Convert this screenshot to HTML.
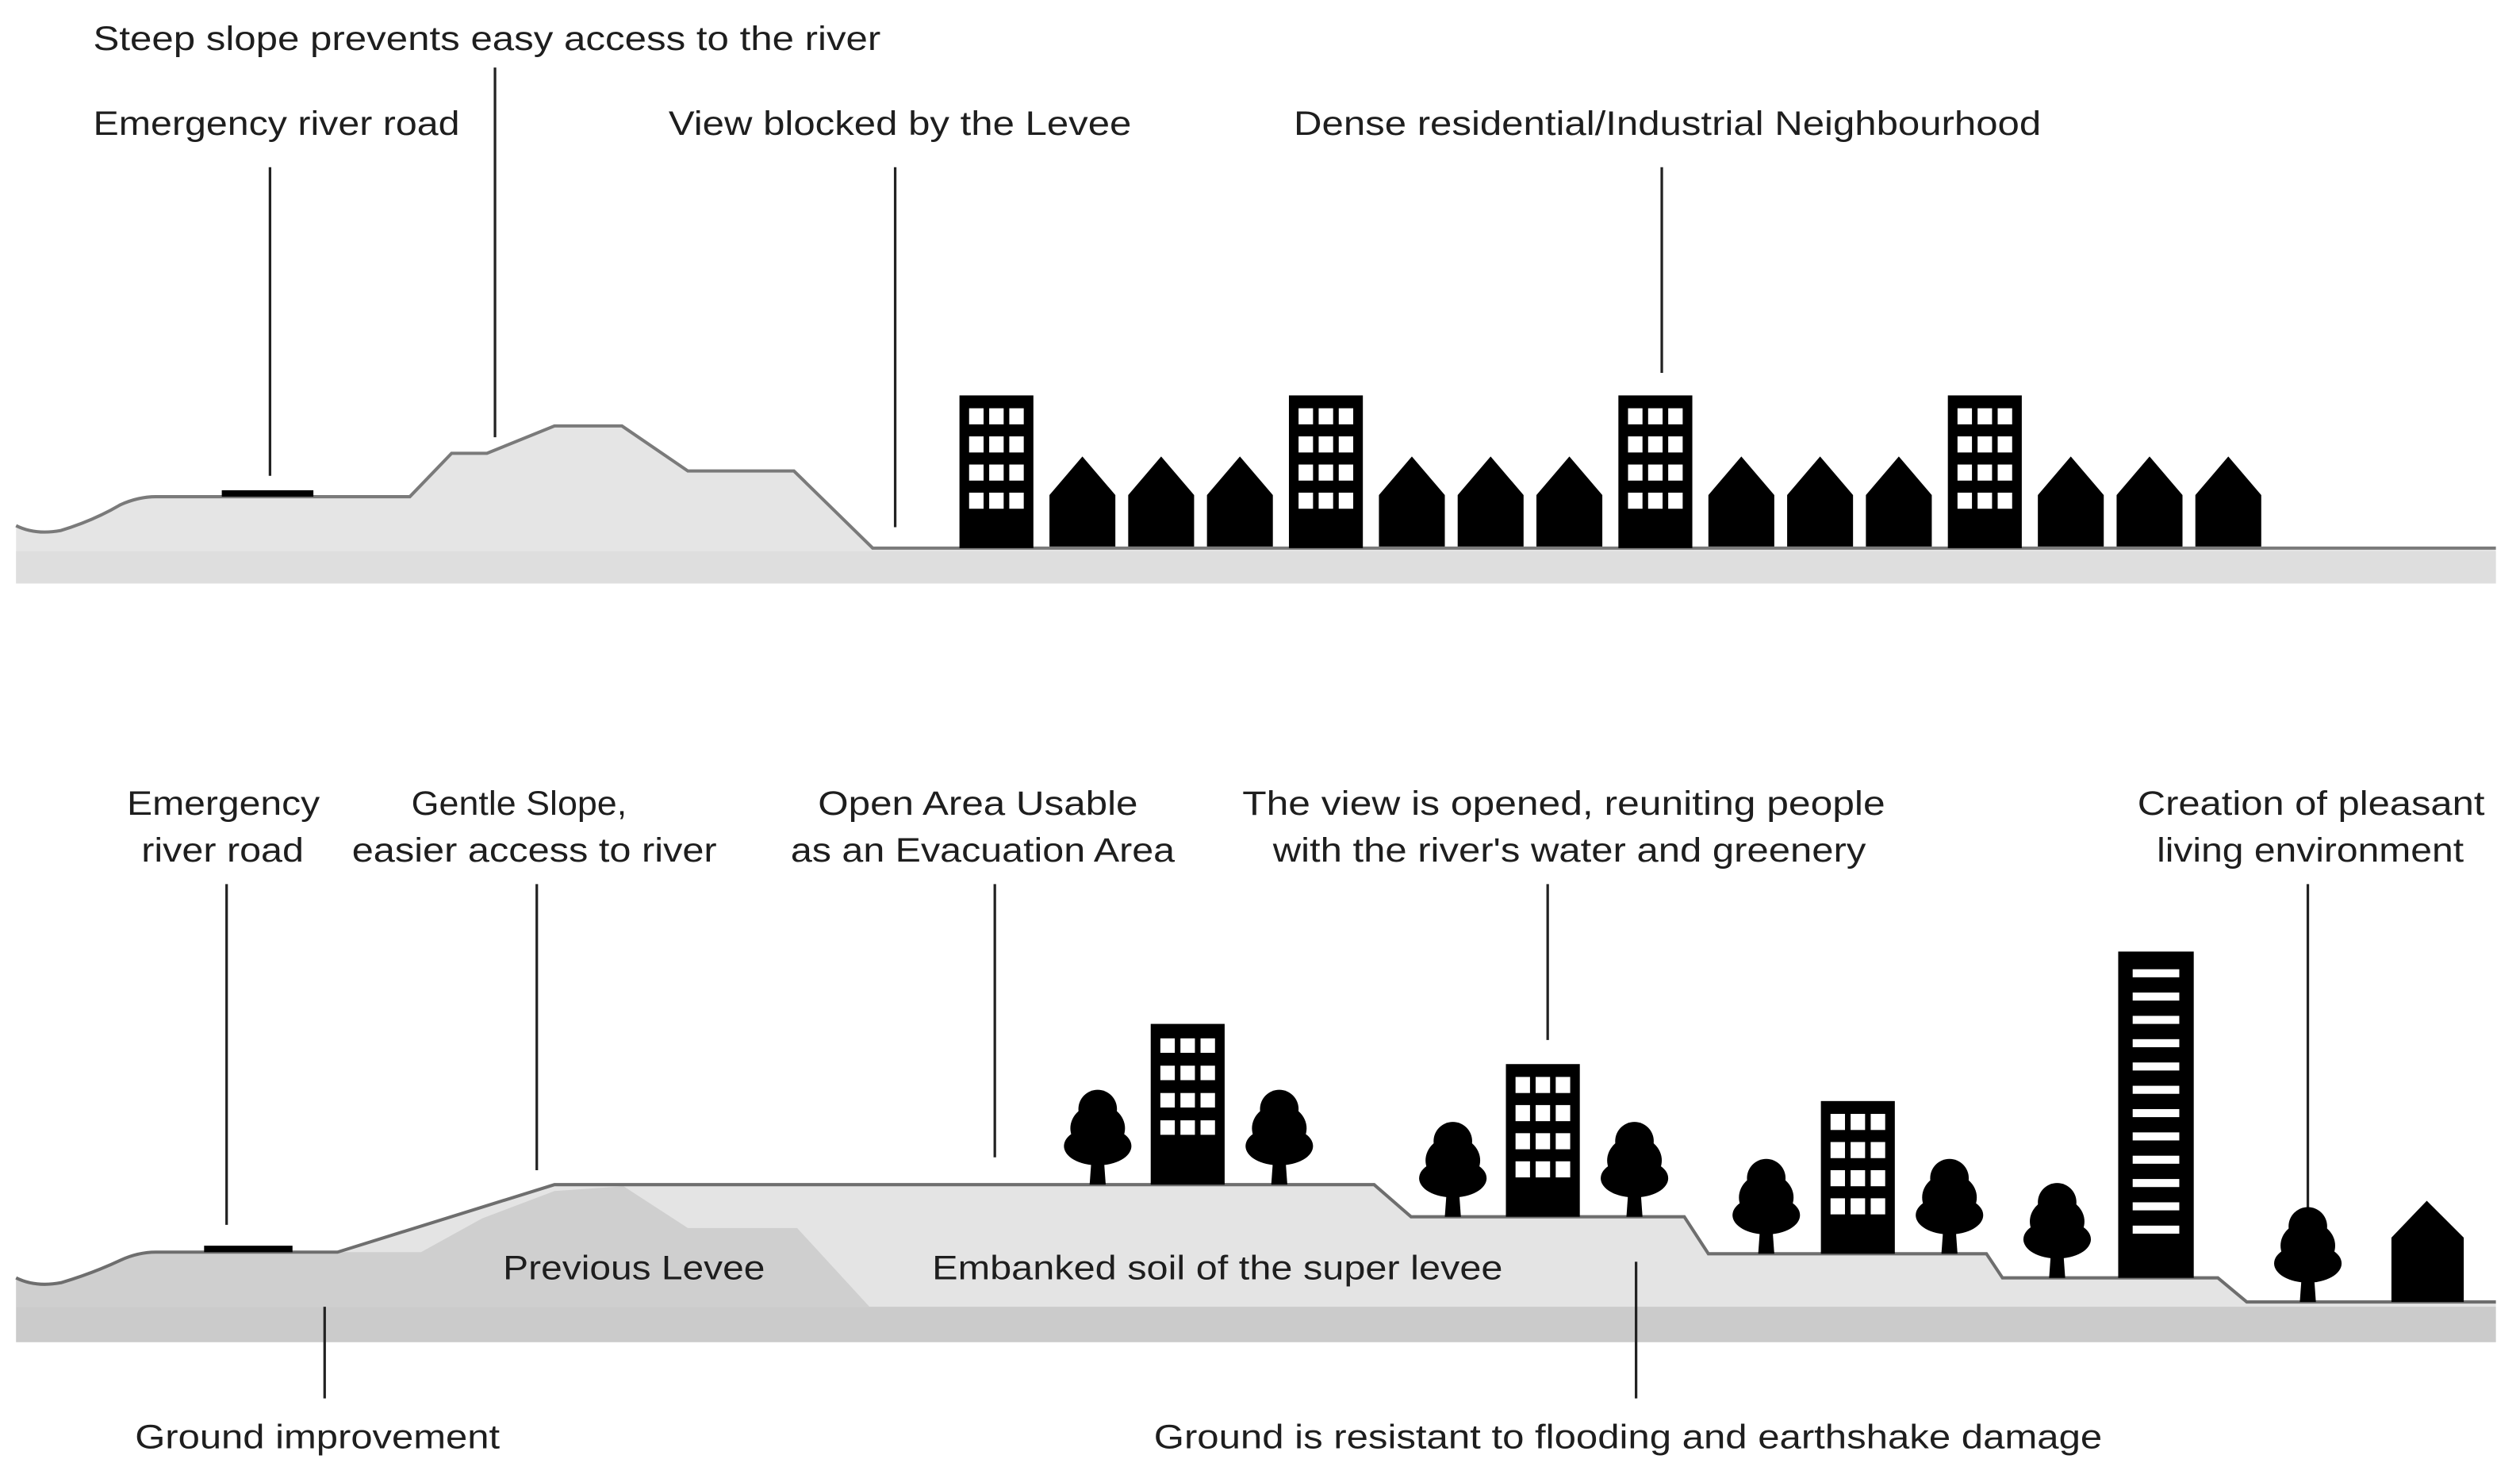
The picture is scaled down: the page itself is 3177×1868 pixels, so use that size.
<!DOCTYPE html>
<html><head><meta charset="utf-8"><style>
html,body{margin:0;padding:0;background:#fff;}
svg{display:block;}
text{font-family:"Liberation Sans",Arial,sans-serif;font-size:21px;fill:#1e1e1e;}
</style></head><body>
<svg width="3177" height="1868" viewBox="0 0 1568 922" preserveAspectRatio="none" xmlns="http://www.w3.org/2000/svg">
<defs>
<g id="bld">
<rect x="0" y="0" width="46" height="95" fill="#000"/>
<g fill="#fff">
<rect x="6" y="8" width="9" height="10"/><rect x="18.5" y="8" width="9" height="10"/><rect x="31" y="8" width="9" height="10"/>
<rect x="6" y="25.5" width="9" height="10"/><rect x="18.5" y="25.5" width="9" height="10"/><rect x="31" y="25.5" width="9" height="10"/>
<rect x="6" y="43" width="9" height="10"/><rect x="18.5" y="43" width="9" height="10"/><rect x="31" y="43" width="9" height="10"/>
<rect x="6" y="60.5" width="9" height="10"/><rect x="18.5" y="60.5" width="9" height="10"/><rect x="31" y="60.5" width="9" height="10"/>
</g></g>
<polygon id="house" points="0,56 0,24 20.5,0 41,24 41,56" fill="#000"/>
<g id="tree" fill="#000">
<path d="M-4,-14 L-5,0 L5,0 L4,-14 Z"/>
<ellipse cx="0" cy="-47" rx="12" ry="12"/>
<ellipse cx="0" cy="-35" rx="17" ry="15"/>
<ellipse cx="0" cy="-24" rx="21" ry="12"/>
</g>
</defs>

<!-- TOP SECTION -->
<text x="58" y="31" textLength="490" lengthAdjust="spacingAndGlyphs">Steep slope prevents easy access to the river</text>
<text x="58" y="84" textLength="228" lengthAdjust="spacingAndGlyphs">Emergency river road</text>
<text x="416" y="84" textLength="288" lengthAdjust="spacingAndGlyphs">View blocked by the Levee</text>
<text x="805" y="84" textLength="465" lengthAdjust="spacingAndGlyphs">Dense residential/Industrial Neighbourhood</text>
<g stroke="#222" stroke-width="1.6">
<line x1="168" y1="104" x2="168" y2="296"/>
<line x1="308" y1="42" x2="308" y2="272"/>
<line x1="557" y1="104" x2="557" y2="328"/>
<line x1="1034" y1="104" x2="1034" y2="232"/>
</g>
<path d="M10,327 Q22,333 38,330 Q58,324 75,314 Q86,309 97,309 L255,309 L281,282 L303,282 L345,265 L387,265 L428,293 L494,293 L543,341 L1553,341 L1553,363 L10,363 Z" fill="#e5e5e5"/>
<rect x="10" y="343" width="1543" height="20" fill="#dedede"/>
<path d="M10,327 Q22,333 38,330 Q58,324 75,314 Q86,309 97,309 L255,309 L281,282 L303,282 L345,265 L387,265 L428,293 L494,293 L543,341 L1553,341" fill="none" stroke="#7a7a7a" stroke-width="2"/>
<rect x="138" y="305" width="57" height="4" fill="#000"/>
<use href="#bld" x="597" y="246"/>
<use href="#bld" x="802" y="246"/>
<use href="#bld" x="1007" y="246"/>
<use href="#bld" x="1212" y="246"/>
<use href="#house" x="653" y="284"/><use href="#house" x="702" y="284"/><use href="#house" x="751" y="284"/>
<use href="#house" x="858" y="284"/><use href="#house" x="907" y="284"/><use href="#house" x="956" y="284"/>
<use href="#house" x="1063" y="284"/><use href="#house" x="1112" y="284"/><use href="#house" x="1161" y="284"/>
<use href="#house" x="1268" y="284"/><use href="#house" x="1317" y="284"/><use href="#house" x="1366" y="284"/>

<!-- BOTTOM SECTION -->
<text x="79" y="507" textLength="120" lengthAdjust="spacingAndGlyphs">Emergency</text>
<text x="88" y="536" textLength="101" lengthAdjust="spacingAndGlyphs">river road</text>
<text x="256" y="507" textLength="134" lengthAdjust="spacingAndGlyphs">Gentle Slope,</text>
<text x="219" y="536" textLength="227" lengthAdjust="spacingAndGlyphs">easier access to river</text>
<text x="509" y="507" textLength="199" lengthAdjust="spacingAndGlyphs">Open Area Usable</text>
<text x="492" y="536" textLength="239" lengthAdjust="spacingAndGlyphs">as an Evacuation Area</text>
<text x="773" y="507" textLength="400" lengthAdjust="spacingAndGlyphs">The  view is opened, reuniting people</text>
<text x="792" y="536" textLength="369" lengthAdjust="spacingAndGlyphs">with the river's water and greenery</text>
<text x="1330" y="507" textLength="216" lengthAdjust="spacingAndGlyphs">Creation of pleasant</text>
<text x="1342" y="536" textLength="191" lengthAdjust="spacingAndGlyphs">living environment</text>
<text x="84" y="901" textLength="227" lengthAdjust="spacingAndGlyphs">Ground improvement</text>
<text x="718" y="901" textLength="590" lengthAdjust="spacingAndGlyphs">Ground is resistant to flooding and earthshake damage</text>

<!-- ground -->
<path d="M10,795 Q22,801 38,798 Q58,792 75,784 Q86,779 97,779 L210,779 L345,737 L855,737 L878,757 L1048,757 L1063,780 L1236,780 L1246,795 L1380,795 L1398,810 L1553,810 L1553,835 L10,835 Z" fill="#e4e4e4"/>
<path d="M10,795 Q22,801 38,798 Q58,792 75,784 Q86,779 97,779 L210,779 L262,779 L300,758 L345,741 L388,738 L428,764 L496,764 L541,813 L10,813 Z" fill="#cfcfcf"/>
<rect x="10" y="813" width="1543" height="22" fill="#cbcbcb"/>
<path d="M10,795 Q22,801 38,798 Q58,792 75,784 Q86,779 97,779 L210,779 L345,737 L855,737 L878,757 L1048,757 L1063,780 L1236,780 L1246,795 L1380,795 L1398,810 L1553,810" fill="none" stroke="#6e6e6e" stroke-width="2"/>
<rect x="127" y="775" width="55" height="4" fill="#000"/>
<text x="313" y="796" fill="#3a3a3a" textLength="163" lengthAdjust="spacingAndGlyphs">Previous Levee</text>
<text x="580" y="796" fill="#3a3a3a" textLength="355" lengthAdjust="spacingAndGlyphs">Embanked soil of the super levee</text>

<g stroke="#222" stroke-width="1.6">
<line x1="141" y1="550" x2="141" y2="762"/>
<line x1="334" y1="550" x2="334" y2="728"/>
<line x1="619" y1="550" x2="619" y2="720"/>
<line x1="963" y1="550" x2="963" y2="647"/>
<line x1="1436" y1="550" x2="1436" y2="765"/>
<line x1="202" y1="813" x2="202" y2="870"/>
<line x1="1018" y1="785" x2="1018" y2="870"/>
</g>

<rect x="716" y="637" width="46" height="100" fill="#000"/>
<g fill="#fff">
<rect x="722" y="646" width="9" height="9"/><rect x="734.5" y="646" width="9" height="9"/><rect x="747" y="646" width="9" height="9"/>
<rect x="722" y="663" width="9" height="9"/><rect x="734.5" y="663" width="9" height="9"/><rect x="747" y="663" width="9" height="9"/>
<rect x="722" y="680" width="9" height="9"/><rect x="734.5" y="680" width="9" height="9"/><rect x="747" y="680" width="9" height="9"/>
<rect x="722" y="697" width="9" height="9"/><rect x="734.5" y="697" width="9" height="9"/><rect x="747" y="697" width="9" height="9"/>
</g>
<use href="#tree" x="683" y="737"/>
<use href="#tree" x="796" y="737"/>

<use href="#tree" x="904" y="757"/>
<use href="#bld" x="937" y="662"/>
<use href="#tree" x="1017" y="757"/>

<use href="#tree" x="1099" y="780"/>
<use href="#bld" x="1133" y="685"/>
<use href="#tree" x="1213" y="780"/>

<use href="#tree" x="1280" y="795"/>
<rect x="1318" y="592" width="47" height="203" fill="#000"/>
<g fill="#fff">
<rect x="1327" y="603" width="29" height="5"/><rect x="1327" y="617.5" width="29" height="5"/><rect x="1327" y="632" width="29" height="5"/>
<rect x="1327" y="646.5" width="29" height="5"/><rect x="1327" y="661" width="29" height="5"/><rect x="1327" y="675.5" width="29" height="5"/>
<rect x="1327" y="690" width="29" height="5"/><rect x="1327" y="704.5" width="29" height="5"/><rect x="1327" y="719" width="29" height="5"/>
<rect x="1327" y="733.5" width="29" height="5"/><rect x="1327" y="748" width="29" height="5"/><rect x="1327" y="762.5" width="29" height="5"/>
</g>

<use href="#tree" x="1436" y="810"/>
<polygon points="1488,810 1488,770 1510,747 1533,770 1533,810" fill="#000"/>
</svg>
</body></html>
